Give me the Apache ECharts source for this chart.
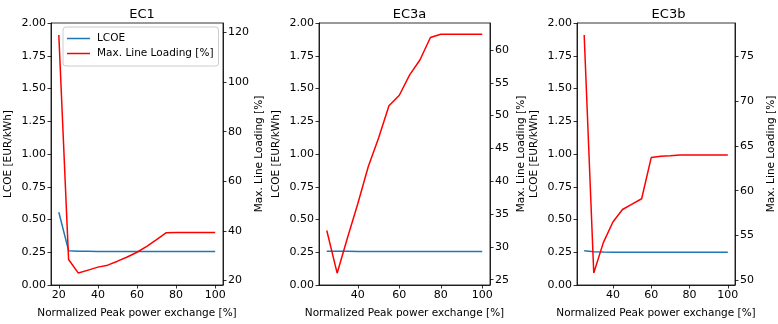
<!DOCTYPE html>
<html>
<head>
<meta charset="utf-8">
<script src="https://cdn.jsdelivr.net/npm/echarts@6/dist/echarts.min.js"></script>
<style>
  html, body { margin: 0; background: #fff; }
  #chart { width: 778px; height: 324px; }
</style>
</head>
<body>
<div id="chart"></div>
<script>
// x values (Normalized Peak power exchange [%])
const xEC1 = [20, 25, 30, 35, 40, 45, 50, 55, 60, 65, 70, 75, 80, 85, 90, 95, 100];
const xEC3 = [25, 30, 35, 40, 45, 50, 55, 60, 65, 70, 75, 80, 85, 90, 95, 100];

// LCOE [EUR/kWh]
const lcoeEC1 = [0.555, 0.262, 0.258, 0.257, 0.256, 0.256, 0.256, 0.256, 0.256, 0.256, 0.256, 0.255, 0.255, 0.255, 0.255, 0.255, 0.255];
const lcoeEC3a = [0.258, 0.257, 0.257, 0.256, 0.256, 0.256, 0.256, 0.256, 0.256, 0.256, 0.255, 0.255, 0.255, 0.255, 0.255, 0.255];
const lcoeEC3b = [0.262, 0.253, 0.251, 0.25, 0.25, 0.25, 0.25, 0.25, 0.25, 0.25, 0.25, 0.25, 0.25, 0.25, 0.25, 0.25];

// Max. Line Loading [%]
const loadEC1 = [119, 28.5, 23, 24.2, 25.4, 26.2, 27.8, 29.5, 31.4, 33.8, 36.5, 39.3, 39.4, 39.4, 39.4, 39.4, 39.4];
const loadEC3a = [32.5, 26.0, 31.4, 36.6, 42.2, 46.6, 51.5, 53.1, 56.2, 58.5, 61.9, 62.4, 62.4, 62.4, 62.4, 62.4];
const loadEC3b = [77.4, 50.8, 54.2, 56.5, 57.9, 58.5, 59.1, 63.7, 63.85, 63.9, 64.0, 64.0, 64.0, 64.0, 64.0, 64.0];

// tick labels
const xTicksEC1 = [20, 40, 60, 80, 100];
const xTicksEC3 = [40, 60, 80, 100];
const rTicksEC1 = [20, 40, 60, 80, 100, 120];
const rTicksEC3a = [25, 30, 35, 40, 45, 50, 55, 60];
const rTicksEC3b = [50, 55, 60, 65, 70, 75];

const panels = [
  { title: 'EC1', x: xEC1, lcoe: lcoeEC1, load: loadEC1, xTicks: xTicksEC1, rTicks: rTicksEC1,
    xMin: 16, xMax: 104, rMin: 18.2, rMax: 123.8, left: 51, width: 172, rGap: 31 },
  { title: 'EC3a', x: xEC3, lcoe: lcoeEC3a, load: loadEC3a, xTicks: xTicksEC3, rTicks: rTicksEC3a,
    xMin: 21.25, xMax: 103.75, rMin: 24.2, rMax: 64.1, left: 319, width: 171, rGap: 26 },
  { title: 'EC3b', x: xEC3, lcoe: lcoeEC3b, load: loadEC3b, xTicks: xTicksEC3, rTicks: rTicksEC3b,
    xMin: 21.25, xMax: 103.75, rMin: 49.47, rMax: 78.73, left: 577, width: 173, rGap: 31 }
];

const FONT = 'DejaVu Sans';
const TOP = 23;
const HEIGHT = 263;

const axisLine = { show: true, lineStyle: { color: '#000', width: 0.8 } };
const axisTick = { show: true, length: 3.5, lineStyle: { color: '#000', width: 0.8 } };
const label = { color: '#000', fontSize: 11, fontFamily: FONT };
const nameStyle = { color: '#000', fontSize: 10.5, fontFamily: FONT };

const grid = [], xAxis = [], yAxis = [], title = [], series = [];

panels.forEach((p, i) => {
  grid.push({
    left: p.left, top: TOP, width: p.width, height: HEIGHT,
    show: true, borderColor: '#000', borderWidth: 0.8, backgroundColor: 'transparent'
  });
  title.push({
    text: p.title,
    left: p.left + p.width / 2, top: 3, textAlign: 'center',
    textStyle: { fontSize: 13, fontWeight: 'normal', color: '#000', fontFamily: FONT }
  });
  xAxis.push({
    gridIndex: i, type: 'value', min: p.xMin, max: p.xMax,
    name: 'Normalized Peak power exchange [%]', nameLocation: 'middle', nameGap: 23,
    nameTextStyle: nameStyle,
    axisLine, splitLine: { show: false },
    axisTick: { ...axisTick, customValues: p.xTicks },
    axisLabel: { ...label, margin: 5, customValues: p.xTicks }
  });
  yAxis.push({
    gridIndex: i, type: 'value', min: 0, max: 2, interval: 0.25, position: 'left',
    name: 'LCOE [EUR/kWh]', nameLocation: 'middle', nameGap: 37,
    nameTextStyle: nameStyle,
    axisLine, axisTick, splitLine: { show: false },
    axisLabel: { ...label, margin: 5, formatter: (v) => v.toFixed(2) }
  });
  yAxis.push({
    gridIndex: i, type: 'value', min: p.rMin, max: p.rMax, position: 'right',
    name: 'Max. Line Loading [%]', nameLocation: 'middle', nameGap: p.rGap,
    nameTextStyle: nameStyle,
    axisLine, splitLine: { show: false },
    axisTick: { ...axisTick, customValues: p.rTicks },
    axisLabel: { ...label, margin: 5, customValues: p.rTicks }
  });
  series.push({
    name: 'LCOE', type: 'line', xAxisIndex: i, yAxisIndex: i * 2,
    data: p.x.map((v, k) => [v, p.lcoe[k]]),
    symbol: 'none', lineStyle: { color: '#1f77b4', width: 1.5 }, itemStyle: { color: '#1f77b4' }
  });
  series.push({
    name: 'Max. Line Loading [%]', type: 'line', xAxisIndex: i, yAxisIndex: i * 2 + 1,
    data: p.x.map((v, k) => [v, p.load[k]]),
    symbol: 'none', lineStyle: { color: '#ff0000', width: 1.5 }, itemStyle: { color: '#ff0000' }
  });
});

const chart = echarts.init(document.getElementById('chart'));
chart.setOption({
  animation: false,
  textStyle: { fontFamily: FONT },
  title,
  legend: {
    data: ['LCOE', 'Max. Line Loading [%]'],
    orient: 'vertical', left: 63, top: 27,
    icon: 'rect', itemWidth: 23, itemHeight: 1.5, itemGap: 4,
    padding: [6, 5, 7, 4],
    borderColor: '#ccc', borderWidth: 1, borderRadius: 3,
    backgroundColor: 'rgba(255,255,255,0.8)',
    textStyle: { fontSize: 10.5, color: '#000', fontFamily: FONT, padding: [0, 0, 0, 2] }
  },
  grid, xAxis, yAxis, series
});
</script>
</body>
</html>
